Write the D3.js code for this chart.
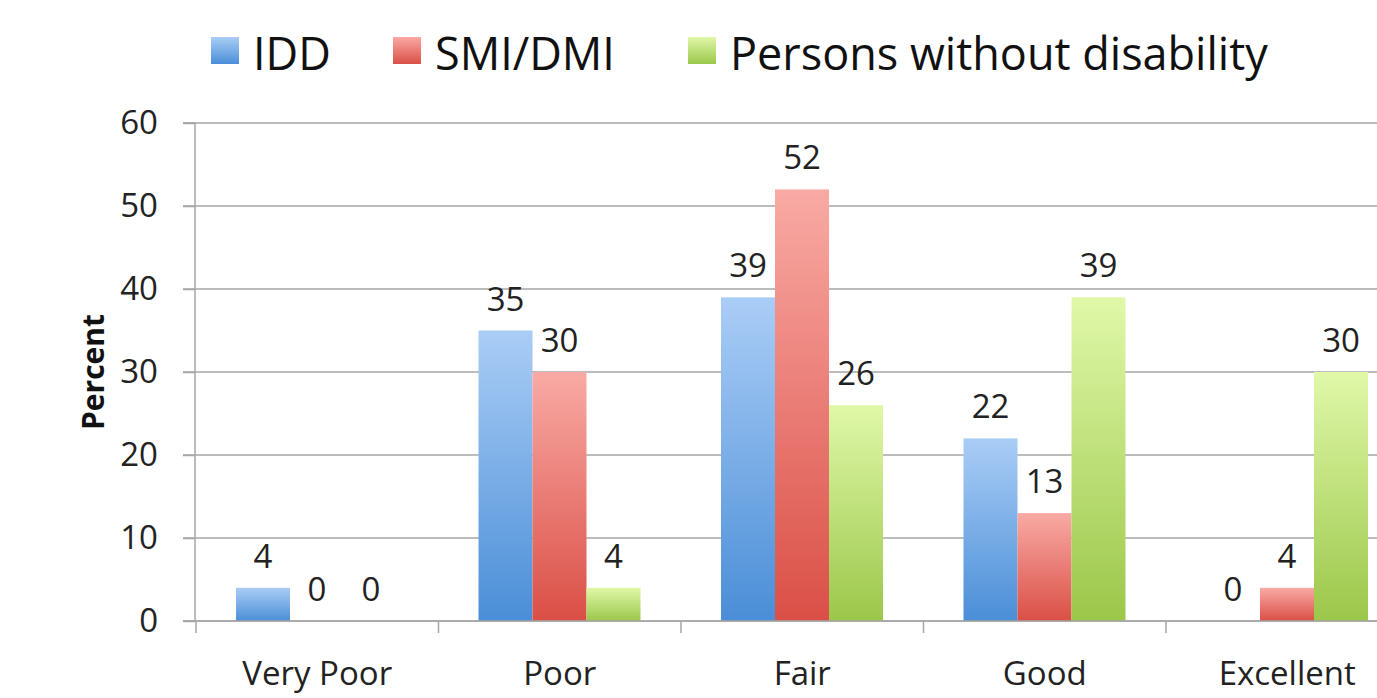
<!DOCTYPE html>
<html><head><meta charset="utf-8">
<script src="https://cdn.jsdelivr.net/npm/d3@7"></script>
<style>
html,body{margin:0;padding:0;background:#fff;overflow:hidden;}
svg{display:block;font-family:"Open Sans",Lato,sans-serif;}
</style></head>
<body>
<svg id="c" width="1377" height="698"></svg>
<script>
const categories = ["Very Poor","Poor","Fair","Good","Excellent"];
const seriesNames = ["IDD","SMI/DMI","Persons without disability"];
const idd = [4,35,39,22,0];
const smi = [0,30,52,13,4];
const noDis = [0,4,26,39,30];
const yTicks = [0,10,20,30,40,50,60];
const yTitle = "Percent";

(function(){
const seriesValues = [idd, smi, noDis];
const grads = [["#aacdf6","#4a8ed7"],["#f9aaa4","#da4f46"],["#e0f8a8","#9bc74a"]];

const svg = d3.select("#c");
const W = 1377;
const plotLeft = 196, plotBottom = 621, plotTop = 123;
const step = 242.5;
const FF = "'Open Sans', Lato, sans-serif";
const FS = 33;

const defs = svg.append("defs");
grads.forEach((g,i)=>{
  const lg = defs.append("linearGradient").attr("id","g"+i).attr("x1",0).attr("y1",0).attr("x2",0).attr("y2",1);
  lg.append("stop").attr("offset","0%").attr("stop-color",g[0]);
  lg.append("stop").attr("offset","100%").attr("stop-color",g[1]);
});

const x = d3.scaleBand().domain(categories).range([plotLeft, plotLeft + step*categories.length]).padding(0);
const xs = d3.scaleBand().domain(d3.range(3)).range([40, 40+162]).padding(0);
const y = d3.scaleLinear().domain([0,60]).range([plotBottom, plotTop]);

svg.append("g").selectAll("line").data(yTicks).join("line")
  .attr("x1",183).attr("x2",W).attr("y1",d=>y(d)).attr("y2",d=>y(d))
  .attr("stroke","#a6a6a6").attr("stroke-width",1.5);

const ya = svg.append("g").attr("transform",`translate(${plotLeft-1},0)`)
  .call(d3.axisLeft(y).tickValues(yTicks).tickSize(12).tickPadding(25).tickFormat(d3.format("d")));
ya.select(".domain").attr("stroke","#a6a6a6").attr("stroke-width",1.5).attr("d",`M-12,${y(60)}H0V${plotBottom}`);
ya.selectAll(".tick line").attr("stroke","#a6a6a6").attr("stroke-width",1.5);
ya.selectAll(".tick text").attr("font-size",FS).attr("fill","#222").attr("font-family",FF);

categories.forEach((c,ci)=>{
  seriesValues.forEach((vals,si)=>{
    const v = vals[ci];
    const bx = x(c)+xs(si);
    if (v>0) svg.append("rect").attr("x",bx).attr("y",y(v)).attr("width",xs.bandwidth()).attr("height",y(0)-y(v)).attr("fill",`url(#g${si})`);
    svg.append("text").attr("x",bx+xs.bandwidth()/2).attr("y",y(v)-20).attr("text-anchor","middle")
      .attr("font-size",FS).attr("fill","#222").text(v);
  });
});

const xa = svg.append("g");
xa.append("line").attr("x1",183).attr("x2",W).attr("y1",plotBottom).attr("y2",plotBottom).attr("stroke","#a6a6a6").attr("stroke-width",1.5);
xa.selectAll("line.t").data(categories).join("line").attr("class","t")
  .attr("x1",d=>x(d)).attr("x2",d=>x(d)).attr("y1",plotBottom).attr("y2",plotBottom+12)
  .attr("stroke","#a6a6a6").attr("stroke-width",1.5);
xa.selectAll("text").data(categories).join("text")
  .attr("x",d=>x(d)+x.bandwidth()/2).attr("y",685).attr("text-anchor","middle")
  .attr("font-size",FS).attr("fill","#222").text(d=>d);

svg.append("text").attr("transform",`translate(104,372) rotate(-90)`).attr("text-anchor","middle")
  .attr("font-size",30).attr("font-weight","bold").attr("fill","#111").text(yTitle);

const legX = [211,393,688];
seriesNames.forEach((n,i)=>{
  svg.append("rect").attr("x",legX[i]).attr("y",37).attr("width",28).attr("height",27).attr("fill",`url(#g${i})`);
  svg.append("text").attr("x",legX[i]+42).attr("y",70).attr("font-size",45).attr("fill","#111").text(n);
});
})();
</script>
</body></html>
